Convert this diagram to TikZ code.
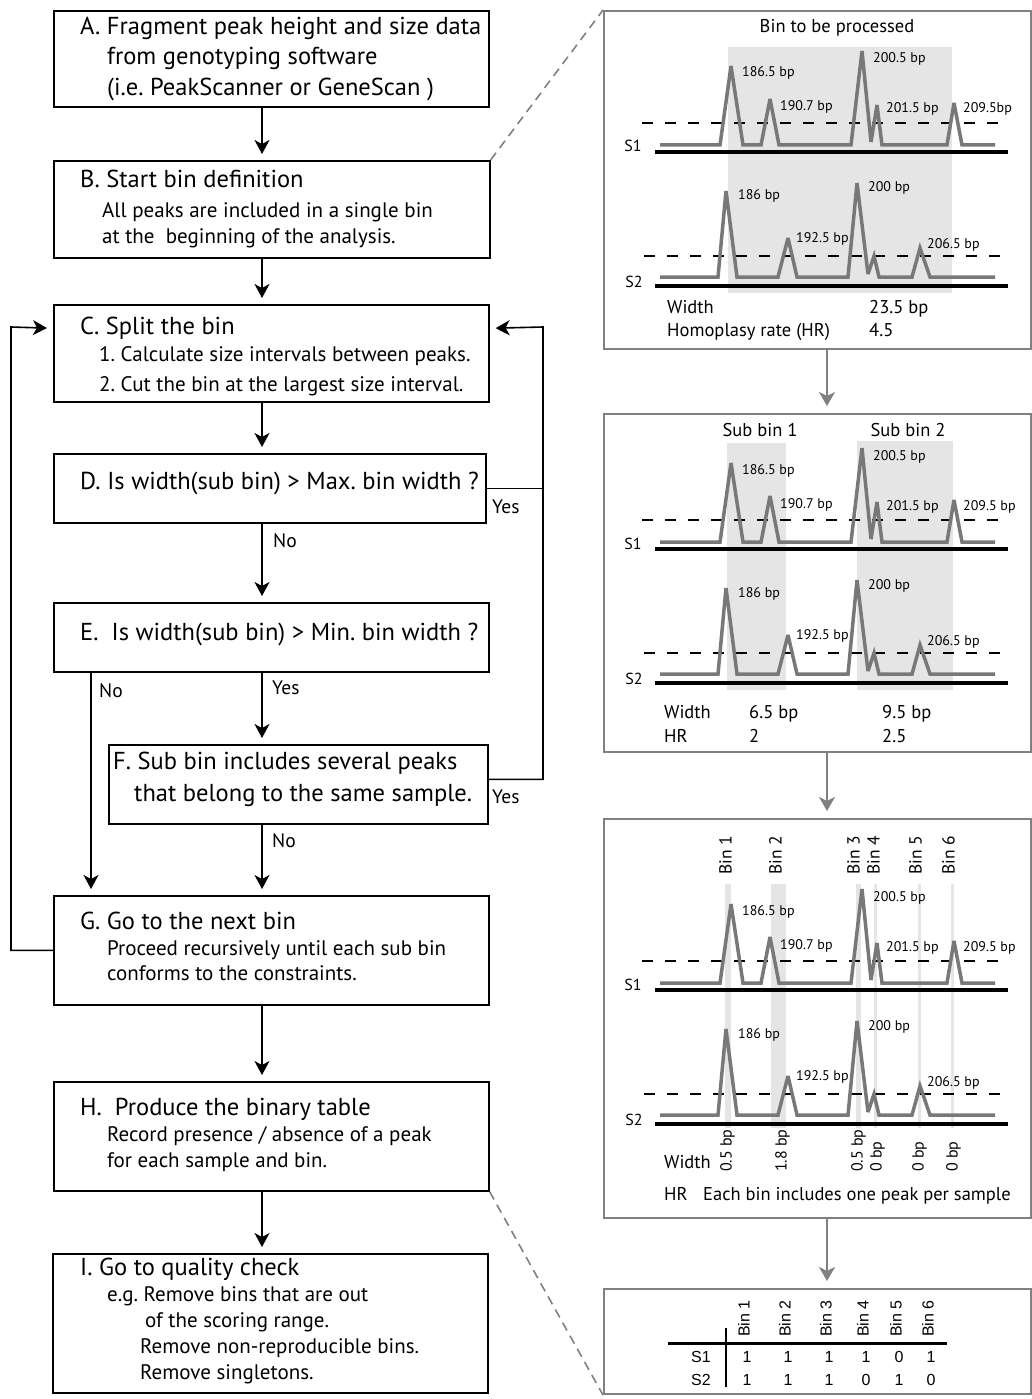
\documentclass[tikz,border=0pt]{standalone}
\usepackage{fontspec}
\setmainfont{PT Sans}
\newfontfamily\tabfont{Liberation Sans}
\usepackage{tikz}
\usetikzlibrary{arrows.meta}

\definecolor{sigcol}{gray}{0.47}
\definecolor{shadecol}{gray}{0.9}
\definecolor{framecol}{gray}{0.5}

\begin{document}
\frenchspacing
\begin{tikzpicture}[x=1pt, y=-1pt, >=Stealth,
  box/.style={draw, line width=1.6pt, anchor=north west, inner sep=0pt},
  panel/.style={draw=framecol, line width=2pt, anchor=north west, inner sep=0pt},
  ttl/.style={anchor=base west, inner sep=0pt, font=\fontsize{24.5}{28}\selectfont},
  txt/.style={anchor=base west, inner sep=0pt, font=\fontsize{21}{24}\selectfont},
  yn/.style={anchor=base west, inner sep=0pt, font=\fontsize{19.5}{22}\selectfont},
  lbl/.style={anchor=base west, inner sep=0pt, font=\fontsize{18.5}{21}\selectfont},
  peak/.style={anchor=base west, inner sep=0pt, font=\fontsize{14}{16}\selectfont},
  binlbl/.style={anchor=mid west, rotate=90, inner sep=0pt, font=\fontsize{17.5}{20}\selectfont},
  bplbl/.style={anchor=mid west, rotate=90, inner sep=0pt, font=\fontsize{16}{18}\selectfont},
  tabcell/.style={inner sep=0pt, font=\tabfont\fontsize{16}{18}\selectfont},
  flow/.style={line width=1.6pt, -{Stealth[length=14pt,width=15pt,inset=4pt]}, shorten >=6pt},
  link/.style={line width=1.6pt},
  grayflow/.style={framecol, line width=2pt, -{Stealth[length=14pt,width=16pt,inset=4pt]}, shorten >=7pt},
  zoomline/.style={framecol, line width=1.6pt, dash pattern=on 9pt off 6pt},
  sig/.style={sigcol, line width=3.5pt, miter limit=4},
  axisline/.style={line width=3.5pt},
  thresh/.style={line width=1.5pt, dash pattern=on 11pt off 12pt},
]
\useasboundingbox (0,0) rectangle (1031,1399);

% Flow boxes
\node[box, minimum width=435pt, minimum height=96pt] (A) at (53,10) {};
\node[box, minimum width=436pt, minimum height=97pt] (B) at (53,160) {};
\node[box, minimum width=435pt, minimum height=97pt] (C) at (53,304) {};
\node[box, minimum width=432pt, minimum height=69pt] (D) at (53,453) {};
\node[box, minimum width=435pt, minimum height=69pt] (E) at (53,602) {};
\node[box, minimum width=379pt, minimum height=79pt] (F) at (108,744) {};
\node[box, minimum width=435pt, minimum height=109pt] (G) at (53,895) {};
\node[box, minimum width=435pt, minimum height=109pt] (H) at (53,1081) {};
\node[box, minimum width=435pt, minimum height=139pt] (I) at (52,1253) {};

% Box texts
\node[ttl] (A1) at (80,35) {A. Fragment peak height and size data};
\node[ttl] (A2) at (107,65) {from genotyping software};
\node[ttl] (A3) at (107,96) {(i.e. PeakScanner or GeneScan )};
\node[ttl] (B1) at (80,187) {B. Start bin definition};
\node[txt] (B2) at (102,218) {All peaks are included in a single bin};
\node[txt] (B3) at (102,243) {at the\ \ beginning of the analysis.};
\node[ttl] (C1) at (80,334) {C. Split the bin};
\node[txt] (C2) at (99,361) {1. Calculate size intervals between peaks.};
\node[txt] (C3) at (99,391) {2. Cut the bin at the largest size interval.};
\node[ttl] (D1) at (80,489) {D. Is width(sub bin) > Max. bin width ?};
\node[ttl] (E1) at (80,640) {E.\ \ Is width(sub bin) > Min. bin width ?};
\node[ttl] (F1) at (113,769) {F. Sub bin includes several peaks};
\node[ttl] (F2) at (134,801) {that belong to the same sample.};
\node[ttl] (G1) at (80,929) {G. Go to the next bin};
\node[txt] (G2) at (107,955) {Proceed recursively until each sub bin};
\node[txt] (G3) at (107,980) {conforms to the constraints.};
\node[ttl] (H1) at (80,1115) {H.\ \ Produce the binary table};
\node[txt] (H2) at (107,1141) {Record presence / absence of a peak};
\node[txt] (H3) at (107,1167) {for each sample and bin.};
\node[ttl] (I1) at (80,1275) {I. Go to quality check};
\node[txt] (I2) at (107,1301) {e.g. Remove bins that are out};
\node[txt] (I3) at (145,1327) {of the scoring range.};
\node[txt] (I4) at (140,1353) {Remove non-reproducible bins.};
\node[txt] (I5) at (140,1379) {Remove singletons.};

% Flow arrows
\coordinate (mx) at (262,0);
\coordinate (nox) at (91,0);
\coordinate (lx) at (11,327);
\coordinate (rx) at (543,327);
\draw[flow] (A.south -| mx) -- (B.north -| mx);
\draw[flow] (B.south -| mx) -- (C.north -| mx);
\draw[flow] (C.south -| mx) -- (D.north -| mx);
\draw[flow] (D.south -| mx) -- (E.north -| mx);
\draw[flow] (E.south -| mx) -- (F.north -| mx);
\draw[flow] (F.south -| mx) -- (G.north -| mx);
\draw[flow] (E.south -| nox) -- (G.north -| nox);
\draw[flow] (G.south -| mx) -- (H.north -| mx);
\draw[flow] (H.south -| mx) -- (I.north -| mx);
\draw[link] (D.east) -- (D.east -| rx);
\draw[flow] ([yshift=5pt]F.east) -| (rx) -- ([yshift=25pt]C.east);
\draw[flow] (G.west) -| (lx) -- ([yshift=25pt]C.west);

% Yes / No labels
\node[yn] (y1) at (492,513) {Yes};
\node[yn] (n1) at (273,547) {No};
\node[yn] (n2) at (99,697) {No};
\node[yn] (y2) at (272,694) {Yes};
\node[yn] (y3) at (492,803) {Yes};
\node[yn] (n3) at (272,847) {No};

% Panels
\node[panel, minimum width=427pt, minimum height=338pt] (P1) at (603,10) {};
\node[panel, minimum width=427pt, minimum height=338pt] (P2) at (603,413) {};
\node[panel, minimum width=427pt, minimum height=399pt] (P3) at (603,818) {};
\node[panel, minimum width=427pt, minimum height=105pt] (P4) at (603,1288) {};

\coordinate (px) at (827,0);
\draw[grayflow] (P1.south -| px) -- (P2.north -| px);
\draw[grayflow] (P2.south -| px) -- (P3.north -| px);
\draw[grayflow] (P3.south -| px) -- (P4.north -| px);
\draw[zoomline] (B.north east) -- (P1.north west);
\draw[zoomline] (H.south east) -- (P4.south west);

% Bin shading
\fill[shadecol] (728,47) rectangle (952,293);
\fill[shadecol] (727,443) rectangle (786,690);
\fill[shadecol] (857,441) rectangle (953,690);
\foreach \xa/\xb in {725/731, 771/786, 856/861, 874/877, 918/921, 951/954}
  \fill[shadecol] (\xa,884) rectangle (\xb,1128);

% Electropherograms
\foreach \oy/\lab in {0/209.5bp, 397/209.5 bp, 838/209.5 bp} {
  \begin{scope}[shift={(0,\oy)}]
    \draw[thresh] (642,123) -- (1005,123);
    \draw[thresh] (644,256) -- (1005,256);
    \draw[axisline] (655,152) -- (1008,152);
    \draw[axisline] (655,286) -- (1008,286);
    \draw[sig] (660,145) -- (720,145) -- (731,66) -- (743,145) -- (761,145) -- (770,99)
      -- (779,145) -- (851,145) -- (862,51) -- (871,142) -- (877,105) -- (882,145)
      -- (947,145) -- (954,103) -- (962,145) -- (995,145);
    \draw[sig] (660,277) -- (718,277) -- (726,191) -- (737,277) -- (778,277) -- (788,238)
      -- (797,277) -- (848,277) -- (857,183) -- (868,274) -- (874,256) -- (879,277)
      -- (912,277) -- (920,248) -- (930,277) -- (995,277);
    \node[anchor=base, font=\fontsize{16}{18}\selectfont, inner sep=0pt] (sa\oy) at (633,152) {S1};
    \node[anchor=base, font=\fontsize{16}{18}\selectfont, inner sep=0pt] (sb\oy) at (634,287) {S2};
    \node[peak] (pa\oy) at (742,77) {186.5 bp};
    \node[peak] (pb\oy) at (780,111) {190.7 bp};
    \node[peak] (pc\oy) at (873,63) {200.5 bp};
    \node[peak] (pd\oy) at (886,113) {201.5 bp};
    \node[peak] (pe\oy) at (963,113) {\lab};
    \node[peak] (qa\oy) at (738,200) {186 bp};
    \node[peak] (qb\oy) at (796,242) {192.5 bp};
    \node[peak] (qc\oy) at (868,192) {200 bp};
    \node[peak] (qd\oy) at (927,248) {206.5 bp};
  \end{scope}
}

% Panel 1 texts
\node[lbl, anchor=base] (t1) at (837,33) {Bin to be processed};
\node[lbl] (w1) at (667,313) {Width};
\node[lbl] (w1v) at (869,313) {23.5 bp};
\node[lbl] (h1) at (667,336) {Homoplasy rate (HR)};
\node[lbl] (h1v) at (869,336) {4.5};

% Panel 2 texts
\node[lbl, anchor=base] (sub1) at (760,436) {Sub bin 1};
\node[lbl, anchor=base] (sub2) at (908,436) {Sub bin 2};
\node[lbl] (w2) at (664,718) {Width};
\node[lbl] (w2a) at (749,718) {6.5 bp};
\node[lbl] (w2b) at (882,718) {9.5 bp};
\node[lbl] (h2) at (664,742) {HR};
\node[lbl] (h2a) at (749,742) {2};
\node[lbl] (h2b) at (882,742) {2.5};

% Panel 3 texts
\foreach \i/\xb/\xw/\bpw in {1/729/729/0.5 bp, 2/779/784/1.8 bp, 3/857/860/0.5 bp, 4/877/879/0 bp, 5/919/921/0 bp, 6/952/955/0 bp} {
  \node[binlbl] (bin\i) at (\xb,875) {Bin \i};
  \node[bplbl] (bw\i) at (\xw,1172) {\bpw};
}
\node[lbl] (w3) at (664,1168) {Width};
\node[lbl] (h3) at (664,1200) {HR};
\node[lbl] (h3a) at (703,1200) {Each bin includes one peak per sample};

% Binary table
\draw[line width=3pt] (668,1343) -- (947,1343);
\draw[line width=2pt] (726,1328) -- (726,1387);
\node[tabcell, anchor=base east] (r1) at (711,1362) {S1};
\node[tabcell, anchor=base east] (r2) at (711,1385) {S2};
\foreach \c/\x/\s/\t in {1/747/1/1, 2/788/1/1, 3/829/1/1, 4/866/1/0, 5/899/0/1, 6/931/1/0} {
  \node[tabcell, anchor=mid west, rotate=90] (col\c) at (\x,1337) {Bin \c};
  \node[tabcell, anchor=base] (va\c) at (\x,1362) {\s};
  \node[tabcell, anchor=base] (vb\c) at (\x,1385) {\t};
}
\end{tikzpicture}
\end{document}
